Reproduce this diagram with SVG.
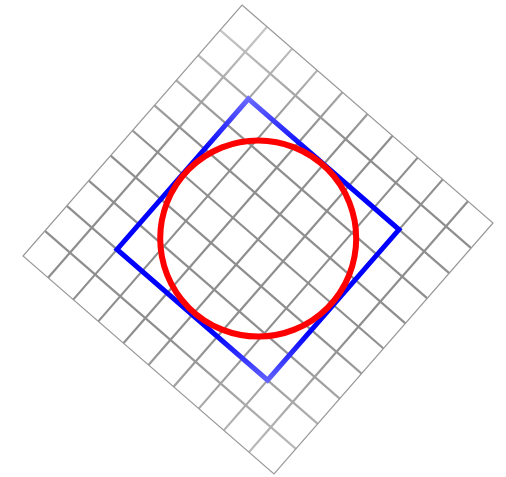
<svg xmlns="http://www.w3.org/2000/svg" width="506" height="477" viewBox="0 0 506 477">
  <defs>
    <linearGradient id="gridShade" gradientUnits="userSpaceOnUse" x1="0" y1="0" x2="0" y2="477">
      <stop offset="0" stop-color="#d4d4d4"/>
      <stop offset="0.3" stop-color="#8e8e8e"/>
      <stop offset="0.7" stop-color="#8e8e8e"/>
      <stop offset="1" stop-color="#c4c4c4"/>
    </linearGradient>
    <linearGradient id="blueShade" gradientUnits="userSpaceOnUse" x1="0" y1="95" x2="0" y2="385">
      <stop offset="0" stop-color="#7070ff"/>
      <stop offset="0.2" stop-color="#0000ff"/>
      <stop offset="0.82" stop-color="#0000ff"/>
      <stop offset="1" stop-color="#6a6aff"/>
    </linearGradient>
    <style>
      .grid line { stroke: url(#gridShade); stroke-width: 2.2; }
      .border { fill: none; stroke: #9a9a9a; stroke-width: 1.2; stroke-linejoin: miter; }
      .square { fill: none; stroke: url(#blueShade); stroke-width: 5; stroke-linejoin: miter; }
      .circle { fill: none; stroke: #ff0000; stroke-width: 6; }
    </style>
  </defs>
  <rect width="506" height="477" fill="#ffffff"/>
  <g id="grid" class="grid">
    <line x1="267.1" y1="26.8" x2="48.1" y2="277.8"/>
    <line x1="292.2" y1="48.6" x2="73.2" y2="299.6"/>
    <line x1="317.3" y1="70.4" x2="98.3" y2="321.4"/>
    <line x1="342.4" y1="92.2" x2="123.4" y2="343.2"/>
    <line x1="367.5" y1="114" x2="148.5" y2="365"/>
    <line x1="392.6" y1="135.8" x2="173.6" y2="386.8"/>
    <line x1="417.7" y1="157.6" x2="198.7" y2="408.6"/>
    <line x1="442.8" y1="179.4" x2="223.8" y2="430.4"/>
    <line x1="467.9" y1="201.2" x2="248.9" y2="452.2"/>
    <line x1="220.1" y1="30.1" x2="471.1" y2="248.1"/>
    <line x1="198.2" y1="55.2" x2="449.2" y2="273.2"/>
    <line x1="176.3" y1="80.3" x2="427.3" y2="298.3"/>
    <line x1="154.4" y1="105.4" x2="405.4" y2="323.4"/>
    <line x1="132.5" y1="130.5" x2="383.5" y2="348.5"/>
    <line x1="110.6" y1="155.6" x2="361.6" y2="373.6"/>
    <line x1="88.7" y1="180.7" x2="339.7" y2="398.7"/>
    <line x1="66.8" y1="205.8" x2="317.8" y2="423.8"/>
    <line x1="44.9" y1="230.9" x2="295.9" y2="448.9"/>
  </g>
  <g id="grid-border">
    <polygon class="border" points="242,5 493,223 274,474 23,256"/>
  </g>
  <g id="blue-square">
    <polygon class="square" points="248.4,98.8 399,229.6 267.6,380.2 117,249.4"/>
  </g>
  <g id="red-circle">
    <circle class="circle" cx="258.2" cy="238.5" r="98"/>
  </g>
</svg>
